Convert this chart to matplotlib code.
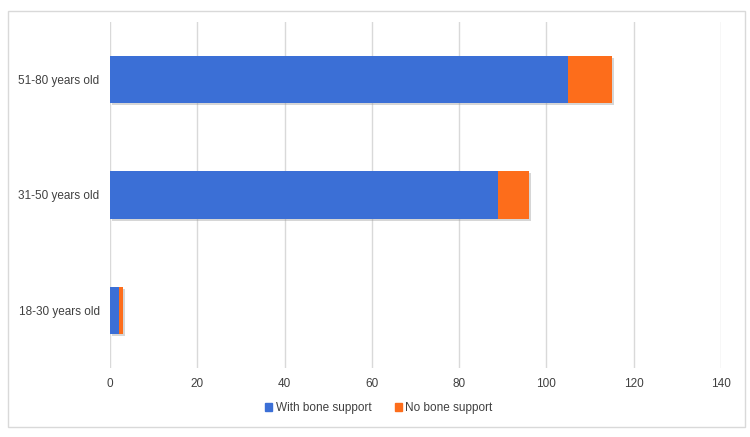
import matplotlib.pyplot as plt
import matplotlib.patheffects as pe
from matplotlib.patches import Rectangle, Patch

plt.rcParams['font.family'] = ['Liberation Sans', 'DejaVu Sans']

# Data
groups = ["18-30 years old", "31-50 years old", "51-80 years old"]
with_bone = [2, 89, 105]
no_bone = [1, 7, 10]
ticks = [0, 20, 40, 60, 80, 100, 120, 140]

blue = "#3b6fd6"
orange = "#fd6d1b"

fig = plt.figure(figsize=(7.5, 4.37), dpi=100)
ax = fig.add_axes([0.1467, 0.158, 0.8147, 0.7918])

shadow = [pe.SimplePatchShadow(offset=(1.5, -1.5), shadow_rgbFace="#999999", alpha=0.4), pe.Normal()]
b1 = ax.barh(groups, with_bone, height=0.41, color=blue, zorder=3)
b2 = ax.barh(groups, no_bone, left=with_bone, height=0.41, color=orange, zorder=3)
for bar in list(b1) + list(b2):
    bar.set_path_effects(shadow)

ax.set_xlim(0, 140)
ax.set_ylim(-0.5, 2.5)
ax.set_xticks(ticks)
ax.grid(axis="x", color="#d9d9d9", linewidth=1, zorder=0)
for s in ax.spines.values():
    s.set_visible(False)
ax.tick_params(axis="both", length=0, labelsize=8.5, labelcolor="#404040")
ax.tick_params(axis="x", pad=7)
ax.tick_params(axis="y", pad=7.5)

handles = [Patch(color=blue, label="With bone support"),
           Patch(color=orange, label="No bone support")]
fig.legend(handles=handles, loc="center", bbox_to_anchor=(0.505, 0.066), ncol=2,
           frameon=False, fontsize=8.5, handlelength=0.6, handleheight=0.6,
           handletextpad=0.3, columnspacing=2.0, labelcolor="#404040")

fig.patches.append(Rectangle((0.0107, 0.023), 0.983, 0.951, transform=fig.transFigure,
                             fill=False, edgecolor="#d9d9d9", linewidth=1))

fig.savefig("out.png", dpi=100)
